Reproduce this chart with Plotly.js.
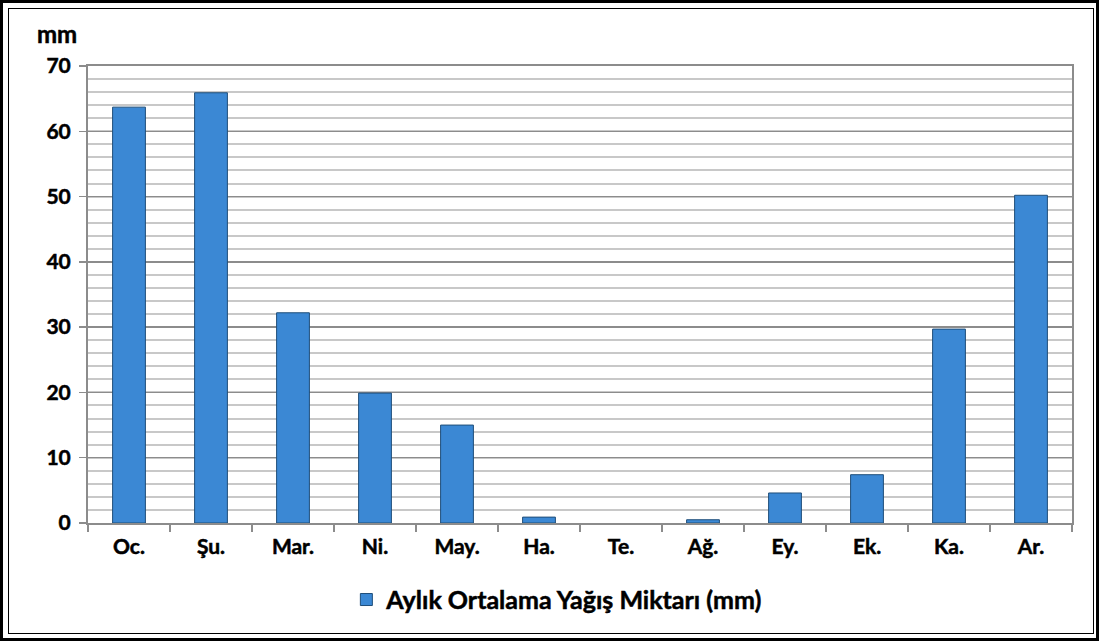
<!DOCTYPE html>
<html><head><meta charset="utf-8">
<script src="https://cdn.plot.ly/plotly-3.0.1.min.js"></script>
<style>
html,body{margin:0;padding:0;background:#fff;}
#wrap{position:relative;width:1099px;height:641px;overflow:hidden;}
#chart{position:absolute;left:0;top:0;width:1099px;height:641px;}
#chart svg text{stroke:#000;stroke-width:0.5px;}
.b1{position:absolute;left:0;top:0;width:1093px;height:635px;border:3px solid #000;pointer-events:none;}
.b2{position:absolute;left:8px;top:8px;width:1084px;height:624px;border:1.5px solid #000;pointer-events:none;}
</style></head>
<body><div id="wrap"><div id="chart"></div><div class="b1"></div><div class="b2"></div></div>
<script>
const months = ["Oc.","Şu.","Mar.","Ni.","May.","Ha.","Te.","Ağ.","Ey.","Ek.","Ka.","Ar."];
const rainfall = [63.7, 65.9, 32.2, 19.9, 15.0, 0.9, 0, 0.5, 4.6, 7.4, 29.7, 50.2];
const seriesName = "Aylık Ortalama Yağış Miktarı (mm)";
const yTicks = [0,10,20,30,40,50,60,70];

const font = "Lato, 'Open Sans', sans-serif";
const fs = 21;
const W = 700;
Plotly.newPlot("chart", [{
  type: "bar", x: months, y: rainfall, name: seriesName,
  width: 0.4,
  marker: {color: "#3b88d4", line: {color: "#1f4e79", width: rainfall.map(v => v > 0 ? 1 : 0)}},
  showlegend: true
}], {
  width: 1099, height: 641,
  margin: {l: 88, r: 27, t: 66, b: 118},
  paper_bgcolor: "#fff", plot_bgcolor: "#fff",
  font: {family: font, size: fs, color: "#000", weight: W},
  xaxis: {
    type: "category", tickson: "boundaries", ticks: "outside", ticklen: 7, tickcolor: "#8c8c8c", tickwidth: 1.5,
    showline: true, linecolor: "#8c8c8c", linewidth: 2, mirror: true, showgrid: false,
    tickfont: {family: font, size: fs, weight: W}, ticklabelstandoff: 4
  },
  yaxis: {
    range: [0, 70], tickvals: yTicks, ticks: "outside", ticklen: 7, tickcolor: "#8c8c8c", tickwidth: 1.5,
    showline: true, linecolor: "#8c8c8c", linewidth: 2, mirror: true,
    showgrid: true, gridcolor: "#8c8c8c", gridwidth: 1.5, zeroline: false,
    minor: {dtick: 2, showgrid: true, gridcolor: "#c8c8c8", gridwidth: 2},
    tickfont: {family: font, size: fs, weight: W}, ticklabelstandoff: 4
  },
  legend: {orientation: "h", x: 0.477, xanchor: "center", y: -0.168, yanchor: "middle",
    itemwidth: 30, font: {family: font, size: 25, weight: W}},
  annotations: [{text: "mm", xref: "paper", yref: "paper", x: -0.031, y: 1.072, showarrow: false,
    xanchor: "center", yanchor: "middle", font: {family: font, size: 24, weight: W}}]
}, {staticPlot: true});
</script></body></html>
